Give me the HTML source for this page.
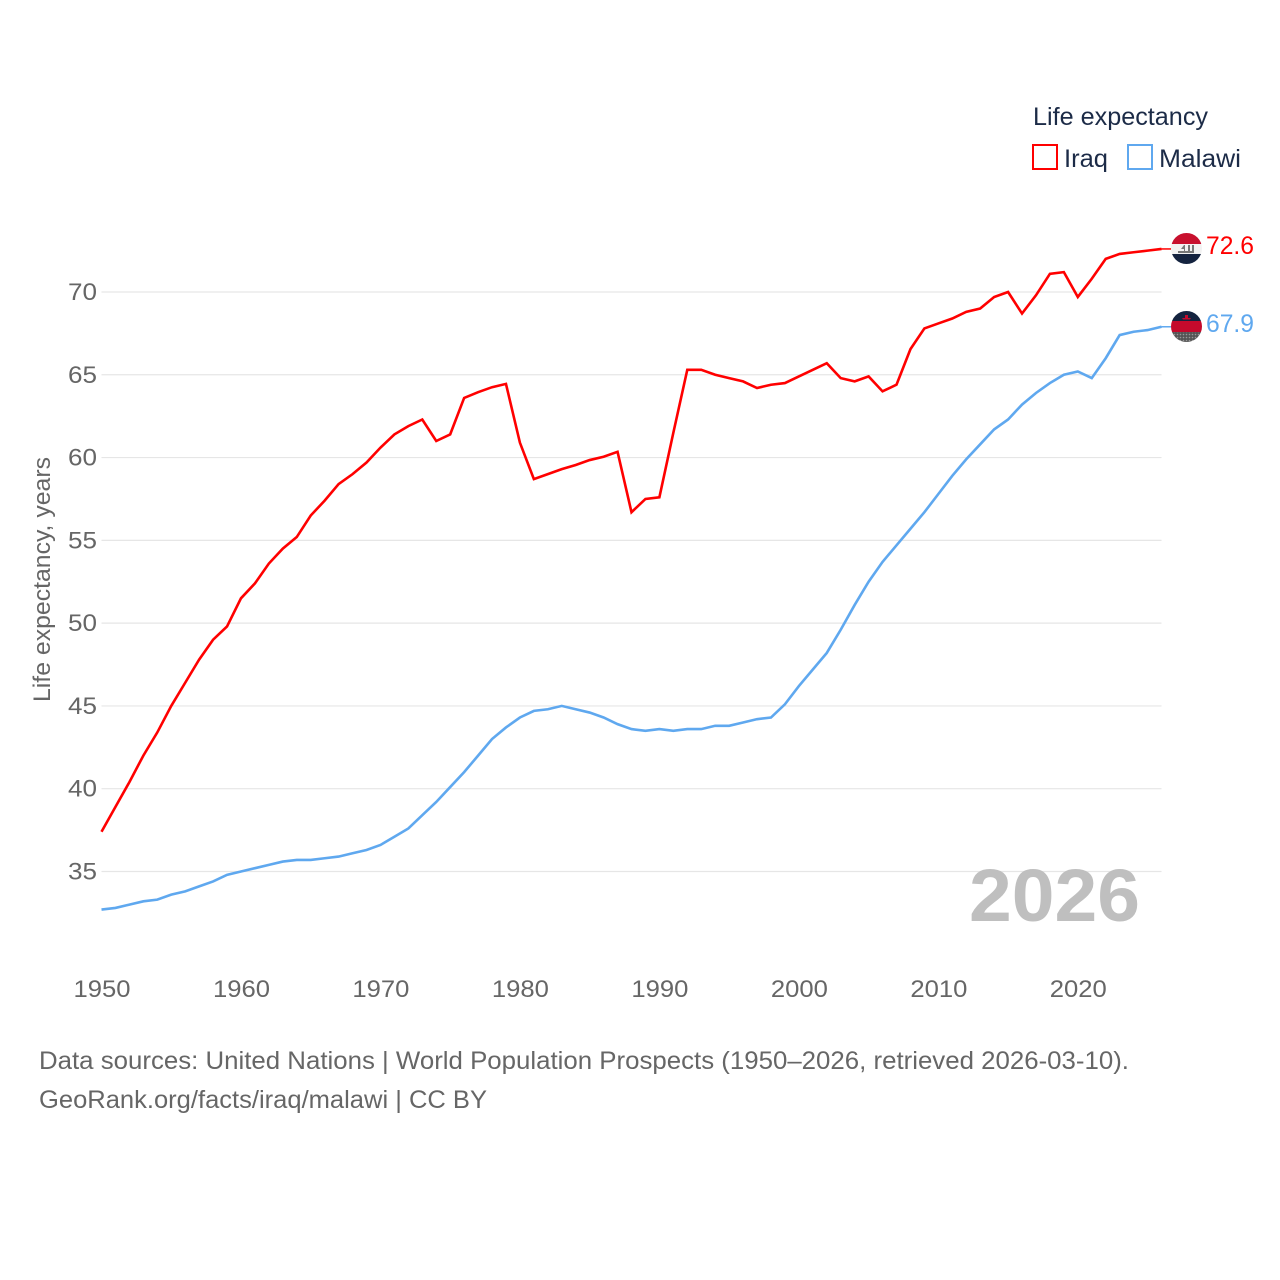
<!DOCTYPE html>
<html lang="en">
<head>
<meta charset="utf-8">
<title>Life expectancy: Iraq and Malawi</title>
<style>
html,body{margin:0;padding:0;background:#fff;}
svg{display:block;font-family:"Liberation Sans",sans-serif;}
</style>
</head>
<body>
<svg id="chart" xmlns="http://www.w3.org/2000/svg" width="1280" height="1280" viewBox="0 0 1280 1280">
  <defs>
    <clipPath id="flag-clip-iraq"><circle cx="1186.5" cy="248.5" r="15.5"/></clipPath>
    <clipPath id="flag-clip-malawi"><circle cx="1186.5" cy="326.5" r="15.5"/></clipPath>
    <pattern id="dots" width="3" height="3" patternUnits="userSpaceOnUse"><rect width="3" height="3" fill="#555"/><circle cx="1.5" cy="1.5" r="0.8" fill="#999"/></pattern>
  </defs>
  <rect width="1280" height="1280" fill="#fff"/>
  <g id="grid"></g>
  <g id="y-ticks"></g>
  <g id="x-ticks"></g>
  <text transform="translate(50,702) rotate(-90)" font-size="24" fill="#666" textLength="245" lengthAdjust="spacingAndGlyphs">Life expectancy, years</text>
  <text x="969" y="921" font-size="74" font-weight="700" fill="#bfbfbf" textLength="171" lengthAdjust="spacingAndGlyphs">2026</text>
  <g id="series"></g>

  <g clip-path="url(#flag-clip-iraq)">
    <rect x="1170" y="232" width="33" height="12" fill="#c8102e"/>
    <rect x="1170" y="244" width="33" height="10" fill="#f2f2f2"/>
    <rect x="1170" y="254" width="33" height="11" fill="#14233f"/>
    <path d="M1178 253v-2h6v-2l-3 0 3-4h1v6h3v-6h2v6h2v-6h2v8z" fill="#777"/>
  </g>
  <g clip-path="url(#flag-clip-malawi)">
    <rect x="1170" y="310" width="33" height="11" fill="#14233f"/>
    <rect x="1170" y="321" width="33" height="11" fill="#c40a2c"/>
    <rect x="1170" y="332" width="33" height="11" fill="url(#dots)"/>
    <path d="M1182 318h9l-1 1.500h-7zM1185 315h3v3h-3z" fill="#c40a2c"/>
  </g>

  <text x="1206" y="254" font-size="25" fill="#ff0000" textLength="48" lengthAdjust="spacingAndGlyphs">72.6</text>
  <text x="1206" y="332" font-size="25" fill="#5fa8ef" textLength="48" lengthAdjust="spacingAndGlyphs">67.9</text>

  <g>
    <text x="1033" y="125" font-size="25" fill="#1c2b47" textLength="175" lengthAdjust="spacingAndGlyphs">Life expectancy</text>
    <g>
      <rect x="1033" y="145" width="24" height="24" fill="none" stroke="#ff0000" stroke-width="2"/>
      <text x="1064" y="167" font-size="25" fill="#1c2b47" textLength="44" lengthAdjust="spacingAndGlyphs">Iraq</text>
    </g>
    <g>
      <rect x="1128" y="145" width="24" height="24" fill="none" stroke="#5fa8ef" stroke-width="2"/>
      <text x="1159" y="167" font-size="25" fill="#1c2b47" textLength="82" lengthAdjust="spacingAndGlyphs">Malawi</text>
    </g>
  </g>

  <text x="39" y="1069" font-size="25" fill="#666" textLength="1090" lengthAdjust="spacingAndGlyphs">Data sources: United Nations | World Population Prospects (1950–2026, retrieved 2026-03-10).</text>
  <text x="39" y="1108" font-size="25" fill="#666" textLength="448" lengthAdjust="spacingAndGlyphs">GeoRank.org/facts/iraq/malawi | CC BY</text>
</svg>
<script>
const startYear = 1950;
const yTickValues = [35, 40, 45, 50, 55, 60, 65, 70];
const xTickYears = [1950, 1960, 1970, 1980, 1990, 2000, 2010, 2020];
const iraqValues = [
  37.4, 38.9, 40.4, 42.0, 43.4, 45.0, 46.4, 47.8, 49.0, 49.8,
  51.5, 52.4, 53.6, 54.5, 55.2, 56.5, 57.4, 58.4, 59.0, 59.7,
  60.6, 61.4, 61.9, 62.3, 61.0, 61.4, 63.6, 63.95, 64.25, 64.45,
  60.9, 58.7, 59.0, 59.3, 59.55, 59.85, 60.05, 60.35, 56.7, 57.5,
  57.6, 61.5, 65.3, 65.3, 65.0, 64.8, 64.6, 64.2, 64.4, 64.5,
  64.9, 65.3, 65.7, 64.8, 64.6, 64.9, 64.0, 64.4, 66.55, 67.8,
  68.1, 68.4, 68.8, 69.0, 69.7, 70.0, 68.7, 69.8, 71.1, 71.2,
  69.7, 70.8, 72.0, 72.3, 72.4, 72.5, 72.6
];
const malawiValues = [
  32.7, 32.8, 33.0, 33.2, 33.3, 33.6, 33.8, 34.1, 34.4, 34.8,
  35.0, 35.2, 35.4, 35.6, 35.7, 35.7, 35.8, 35.9, 36.1, 36.3,
  36.6, 37.1, 37.6, 38.4, 39.2, 40.1, 41.0, 42.0, 43.0, 43.7,
  44.3, 44.7, 44.8, 45.0, 44.8, 44.6, 44.3, 43.9, 43.6, 43.5,
  43.6, 43.5, 43.6, 43.6, 43.8, 43.8, 44.0, 44.2, 44.3, 45.1,
  46.2, 47.2, 48.2, 49.6, 51.1, 52.5, 53.7, 54.7, 55.7, 56.7,
  57.8, 58.9, 59.9, 60.8, 61.7, 62.3, 63.2, 63.9, 64.5, 65.0,
  65.2, 64.8, 66.0, 67.4, 67.6, 67.7, 67.9
];

const NS = 'http://www.w3.org/2000/svg';
const plotLeft = 101.5;
const plotRight = 1161.5;
const connectorEnd = 1171;
function xScale(year) { return plotLeft + (year - 1950) * (plotRight - plotLeft) / 76; }
function yScale(value) { return 292 + (70 - value) * 16.557; }
function make(tag, attrs) {
  const el = document.createElementNS(NS, tag);
  for (const k in attrs) el.setAttribute(k, attrs[k]);
  return el;
}

const gridGroup = document.getElementById('grid');
const yGroup = document.getElementById('y-ticks');
yTickValues.forEach(function (v) {
  const line = make('line', { x1: plotLeft, x2: plotRight, y1: yScale(v), y2: yScale(v), stroke: '#e6e6e6', 'stroke-width': 1.2 });
  
  
  gridGroup.appendChild(line);
  const label = make('text', { x: 68, y: yScale(v) + 8, 'font-size': 24, fill: '#666', textLength: 29, lengthAdjust: 'spacingAndGlyphs' });
  
  
  label.textContent = v;
  yGroup.appendChild(label);
});

const xGroup = document.getElementById('x-ticks');
xTickYears.forEach(function (yr) {
  const label = make('text', { x: xScale(yr) - 28, y: 997, 'font-size': 24, fill: '#666', textLength: 57, lengthAdjust: 'spacingAndGlyphs' });
  
  
  label.textContent = yr;
  xGroup.appendChild(label);
});

function linePoints(values) {
  return values.map(function (v, i) {
    return xScale(startYear + i).toFixed(2) + ',' + yScale(v).toFixed(2);
  }).join(' ');
}

const seriesGroup = document.getElementById('series');

const malawiLine = make('polyline', { points: linePoints(malawiValues), fill: 'none', stroke: '#5fa8ef', 'stroke-width': 2.6, 'stroke-linejoin': 'miter' });


seriesGroup.appendChild(malawiLine);

const iraqLine = make('polyline', { points: linePoints(iraqValues), fill: 'none', stroke: '#ff0000', 'stroke-width': 2.6, 'stroke-linejoin': 'miter' });


seriesGroup.appendChild(iraqLine);

const malawiLast = yScale(malawiValues[malawiValues.length - 1]);
const malawiConnector = make('line', { x1: plotRight, x2: connectorEnd, y1: malawiLast, y2: malawiLast, stroke: '#5fa8ef', 'stroke-width': 1.5 });


seriesGroup.appendChild(malawiConnector);

const iraqLast = yScale(iraqValues[iraqValues.length - 1]);
const iraqConnector = make('line', { x1: plotRight, x2: connectorEnd, y1: iraqLast, y2: iraqLast, stroke: '#ff0000', 'stroke-width': 1.5 });


seriesGroup.appendChild(iraqConnector);
</script>
</body>
</html>
